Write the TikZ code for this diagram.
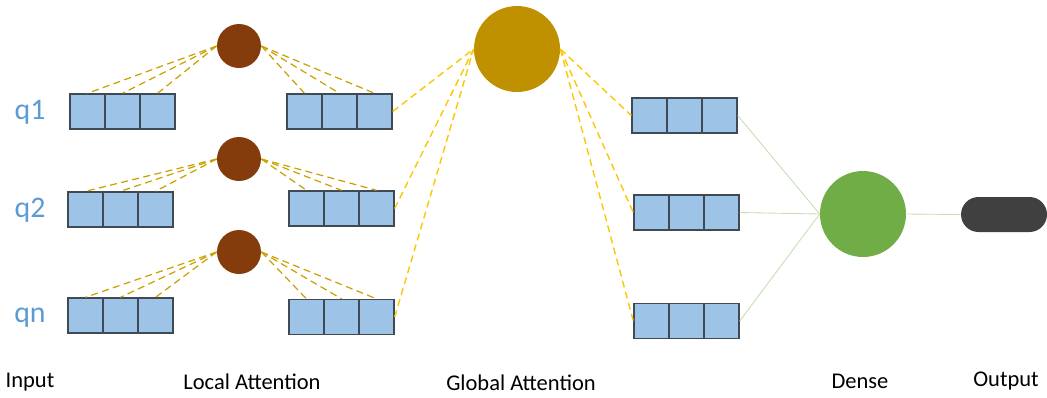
\documentclass[tikz,border=0pt]{standalone}
\usepackage{fontspec}
\setmainfont{Carlito}
\definecolor{cellfill}{HTML}{9DC3E6}
\definecolor{celledge}{HTML}{3F4A55}
\definecolor{localc}{HTML}{843C0C}
\definecolor{globalc}{HTML}{BF9000}
\definecolor{densec}{HTML}{70AD47}
\definecolor{outc}{HTML}{404040}
\definecolor{qblue}{HTML}{5B9BD5}
\begin{document}
\begin{tikzpicture}[x=0.02cm,y=-0.02cm,
  cell/.style={draw=celledge,fill=cellfill,line width=0.8pt,minimum size=0.7cm,inner sep=0pt},
  neuron/.style={circle,inner sep=0pt},
  locline/.style={draw=globalc!85!yellow,dashed,dash pattern=on 4pt off 2.5pt,line width=0.7pt},
  gloline/.style={draw=yellow!60!orange,dash pattern=on 4pt off 2.5pt,line width=0.8pt},
  denline/.style={draw=densec!40,line width=0.5pt},
  lbl/.style={font=\fontsize{12.8}{14}\selectfont,inner sep=0pt},
  qlbl/.style={font=\fontsize{17}{19}\selectfont,text=qblue,inner sep=0pt}]
\useasboundingbox (0,0) rectangle (1047,397);
% three rows of vectors: input, after local attention, after global attention
\foreach \r/\xa/\ya/\xb/\yb/\xc/\yc in {1/70/111.5/287/111.5/632/115.5,
    2/68/209.5/289/208.5/634/212.5, 3/68/315.5/289/317/634/321}
  \foreach \c in {1,2,3} {
    \node[cell] (q\r-\c) at (\xa+35*\c-17.5,\ya) {};
    \node[cell] (l\r-\c) at (\xb+35*\c-17.5,\yb) {};
    \node[cell] (g\r-\c) at (\xc+35*\c-17.5,\yc) {};
  }
\foreach \r/\t/\y in {1/q1/112, 2/q2/210, 3/qn/318}
  \node[qlbl] (name\r) at (30,\y) {\t};
% local attention units
\foreach \r/\y in {1/46, 2/159, 3/252}
  \node[neuron,fill=localc,minimum size=0.88cm] (a\r) at (239,\y) {};
\foreach \r in {1,2,3}
  \foreach \c in {1,2,3} {
    \draw[locline] (a\r.west) -- (q\r-\c.north);
    \draw[locline] (a\r.east) -- (l\r-\c.north);
  }
% global attention
\node[neuron,fill=globalc,minimum size=1.72cm] (glob) at (517,49) {};
\foreach \r in {1,2,3} {
  \draw[gloline] (l\r-3.east) -- (glob.west);
  \draw[gloline] (glob.east) -- (g\r-1.west);
}
% dense layer and output
\node[neuron,fill=densec,minimum size=1.72cm] (dense) at (863,214) {};
\node[fill=outc,minimum width=1.72cm,minimum height=0.7cm,rounded corners=0.35cm] (out) at (1004,214.5) {};
\foreach \r in {1,2,3}
  \draw[denline] (g\r-3.east) -- (dense.west);
\draw[denline] (dense.east) -- (out.west);
% captions
\node[lbl] (cin) at (30,382) {Input};
\node[lbl] (cloc) at (252,382) {Local Attention};
\node[lbl] (cglo) at (521,383) {Global Attention};
\node[lbl] (cden) at (860,381) {Dense};
\node[lbl] (cout) at (1006,381) {Output};
\end{tikzpicture}
\end{document}
